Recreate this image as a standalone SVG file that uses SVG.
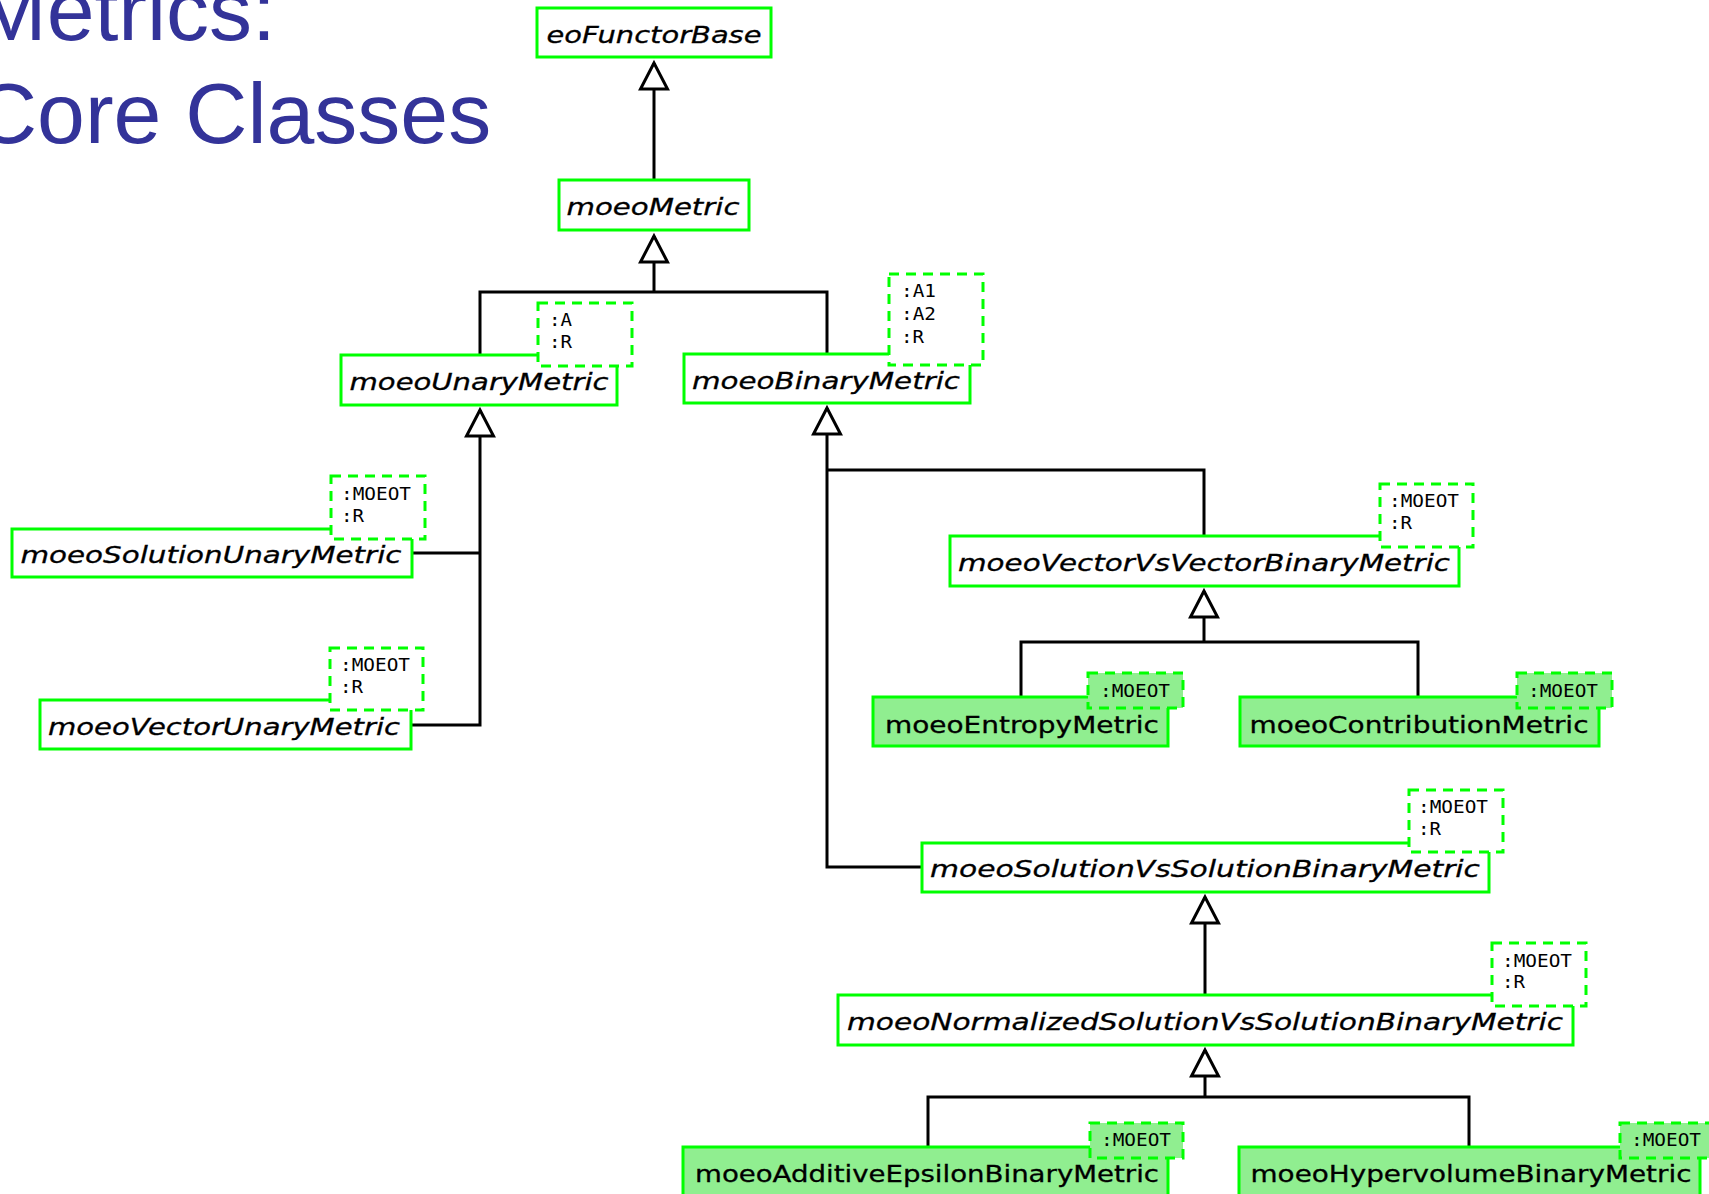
<svg xmlns="http://www.w3.org/2000/svg" width="1709" height="1194" viewBox="0 0 1709 1194">
<style>
.title{font-family:"Liberation Sans",Arial,sans-serif;font-size:86px;fill:#333399}
.cls{fill:#ffffff;stroke:#00ff00;stroke-width:3}
.cls.concrete{fill:#90ee90}
.tpl{fill:#ffffff;stroke:#00ff00;stroke-width:3;stroke-dasharray:10 7}
.tpl.concrete{fill:#90ee90}
.name{font-family:"DejaVu Sans","Liberation Sans",sans-serif;font-size:23px;fill:#000000;stroke:#000000;stroke-width:0.3;text-anchor:middle}
.abstract{font-style:italic}
.param{font-family:"DejaVu Sans Mono","Liberation Mono",monospace;font-size:17px;fill:#000000}
.conn{fill:none;stroke:#000000;stroke-width:3}
</style>
<defs>
<marker id="gen" markerUnits="userSpaceOnUse" viewBox="-30 -17 34 34" markerWidth="34" markerHeight="34" refX="0" refY="0" orient="auto">
<path d="M0,0 L-26,-13.5 L-26,13.5 Z" fill="#ffffff" stroke="#000000" stroke-width="3"/>
</marker>
</defs>
<rect width="1709" height="1194" fill="#ffffff"/>
<g id="title">
<text class="title" x="-25" y="40">Metrics:</text>
<text class="title" x="-25" y="143">Core Classes</text>
</g>
<g id="connectors">
<path class="conn" d="M654,180 V63" marker-end="url(#gen)"/>
<path class="conn" d="M480,355 V292 H827 V354"/>
<path class="conn" d="M654,292 V236" marker-end="url(#gen)"/>
<path class="conn" d="M412,553 H480"/>
<path class="conn" d="M411,725 H480 V410" marker-end="url(#gen)"/>
<path class="conn" d="M1204,536 V470 H827"/>
<path class="conn" d="M922,867 H827 V408" marker-end="url(#gen)"/>
<path class="conn" d="M1021,697 V642 H1418 V697"/>
<path class="conn" d="M1204,642 V591" marker-end="url(#gen)"/>
<path class="conn" d="M1205,995 V897" marker-end="url(#gen)"/>
<path class="conn" d="M928,1147 V1097 H1469 V1147"/>
<path class="conn" d="M1205,1097 V1050" marker-end="url(#gen)"/>
</g>
<g id="eoFunctorBase">
<rect class="cls" x="537" y="8" width="234" height="49"/>
<text class="name abstract" x="654" y="43" textLength="215" lengthAdjust="spacingAndGlyphs">eoFunctorBase</text>
</g>
<g id="moeoMetric">
<rect class="cls" x="559" y="180" width="190" height="50"/>
<text class="name abstract" x="653" y="215" textLength="173" lengthAdjust="spacingAndGlyphs">moeoMetric</text>
</g>
<g id="moeoUnaryMetric">
<rect class="cls" x="341" y="355" width="276" height="50"/>
<text class="name abstract" x="479" y="390" textLength="259" lengthAdjust="spacingAndGlyphs">moeoUnaryMetric</text>
<rect class="tpl" x="538" y="303" width="94" height="63"/>
<text class="param" x="549" y="326" textLength="23" lengthAdjust="spacingAndGlyphs">:A</text>
<text class="param" x="549" y="348" textLength="23" lengthAdjust="spacingAndGlyphs">:R</text>
</g>
<g id="moeoBinaryMetric">
<rect class="cls" x="684" y="354" width="286" height="49"/>
<text class="name abstract" x="826" y="389" textLength="268" lengthAdjust="spacingAndGlyphs">moeoBinaryMetric</text>
<rect class="tpl" x="889" y="274" width="94" height="91"/>
<text class="param" x="901" y="297" textLength="35" lengthAdjust="spacingAndGlyphs">:A1</text>
<text class="param" x="901" y="320" textLength="35" lengthAdjust="spacingAndGlyphs">:A2</text>
<text class="param" x="901" y="343" textLength="23" lengthAdjust="spacingAndGlyphs">:R</text>
</g>
<g id="moeoSolutionUnaryMetric">
<rect class="cls" x="12" y="529" width="400" height="48"/>
<text class="name abstract" x="211" y="563" textLength="381" lengthAdjust="spacingAndGlyphs">moeoSolutionUnaryMetric</text>
<rect class="tpl" x="331" y="476" width="94" height="63"/>
<text class="param" x="341" y="500" textLength="70" lengthAdjust="spacingAndGlyphs">:MOEOT</text>
<text class="param" x="341" y="522" textLength="23" lengthAdjust="spacingAndGlyphs">:R</text>
</g>
<g id="moeoVectorUnaryMetric">
<rect class="cls" x="40" y="700" width="371" height="49"/>
<text class="name abstract" x="224" y="735" textLength="352" lengthAdjust="spacingAndGlyphs">moeoVectorUnaryMetric</text>
<rect class="tpl" x="330" y="648" width="93" height="62"/>
<text class="param" x="340" y="671" textLength="70" lengthAdjust="spacingAndGlyphs">:MOEOT</text>
<text class="param" x="340" y="693" textLength="23" lengthAdjust="spacingAndGlyphs">:R</text>
</g>
<g id="moeoVectorVsVectorBinaryMetric">
<rect class="cls" x="950" y="536" width="509" height="50"/>
<text class="name abstract" x="1204" y="571" textLength="492" lengthAdjust="spacingAndGlyphs">moeoVectorVsVectorBinaryMetric</text>
<rect class="tpl" x="1380" y="484" width="93" height="63"/>
<text class="param" x="1389" y="507" textLength="70" lengthAdjust="spacingAndGlyphs">:MOEOT</text>
<text class="param" x="1389" y="529" textLength="23" lengthAdjust="spacingAndGlyphs">:R</text>
</g>
<g id="moeoEntropyMetric">
<rect class="cls concrete" x="873" y="697" width="295" height="49"/>
<text class="name" x="1022" y="733" textLength="274" lengthAdjust="spacingAndGlyphs">moeoEntropyMetric</text>
<rect class="tpl concrete" x="1088" y="673" width="95" height="35"/>
<text class="param" x="1100" y="697" textLength="70" lengthAdjust="spacingAndGlyphs">:MOEOT</text>
</g>
<g id="moeoContributionMetric">
<rect class="cls concrete" x="1240" y="697" width="359" height="49"/>
<text class="name" x="1419" y="733" textLength="339" lengthAdjust="spacingAndGlyphs">moeoContributionMetric</text>
<rect class="tpl concrete" x="1517" y="673" width="95" height="35"/>
<text class="param" x="1528" y="697" textLength="70" lengthAdjust="spacingAndGlyphs">:MOEOT</text>
</g>
<g id="moeoSolutionVsSolutionBinaryMetric">
<rect class="cls" x="922" y="843" width="567" height="49"/>
<text class="name abstract" x="1205" y="877" textLength="550" lengthAdjust="spacingAndGlyphs">moeoSolutionVsSolutionBinaryMetric</text>
<rect class="tpl" x="1409" y="790" width="94" height="62"/>
<text class="param" x="1418" y="813" textLength="70" lengthAdjust="spacingAndGlyphs">:MOEOT</text>
<text class="param" x="1418" y="835" textLength="23" lengthAdjust="spacingAndGlyphs">:R</text>
</g>
<g id="moeoNormalizedSolutionVsSolutionBinaryMetric">
<rect class="cls" x="838" y="995" width="735" height="50"/>
<text class="name abstract" x="1205" y="1030" textLength="716" lengthAdjust="spacingAndGlyphs">moeoNormalizedSolutionVsSolutionBinaryMetric</text>
<rect class="tpl" x="1492" y="943" width="94" height="63"/>
<text class="param" x="1502" y="967" textLength="70" lengthAdjust="spacingAndGlyphs">:MOEOT</text>
<text class="param" x="1502" y="988" textLength="23" lengthAdjust="spacingAndGlyphs">:R</text>
</g>
<g id="moeoAdditiveEpsilonBinaryMetric">
<rect class="cls concrete" x="683" y="1147" width="485" height="50"/>
<text class="name" x="927" y="1182" textLength="464" lengthAdjust="spacingAndGlyphs">moeoAdditiveEpsilonBinaryMetric</text>
<rect class="tpl concrete" x="1090" y="1123" width="93" height="35"/>
<text class="param" x="1101" y="1146" textLength="70" lengthAdjust="spacingAndGlyphs">:MOEOT</text>
</g>
<g id="moeoHypervolumeBinaryMetric">
<rect class="cls concrete" x="1239" y="1147" width="461" height="50"/>
<text class="name" x="1471" y="1182" textLength="441" lengthAdjust="spacingAndGlyphs">moeoHypervolumeBinaryMetric</text>
<rect class="tpl concrete" x="1620" y="1123" width="94" height="35"/>
<text class="param" x="1631" y="1146" textLength="70" lengthAdjust="spacingAndGlyphs">:MOEOT</text>
</g>
</svg>
